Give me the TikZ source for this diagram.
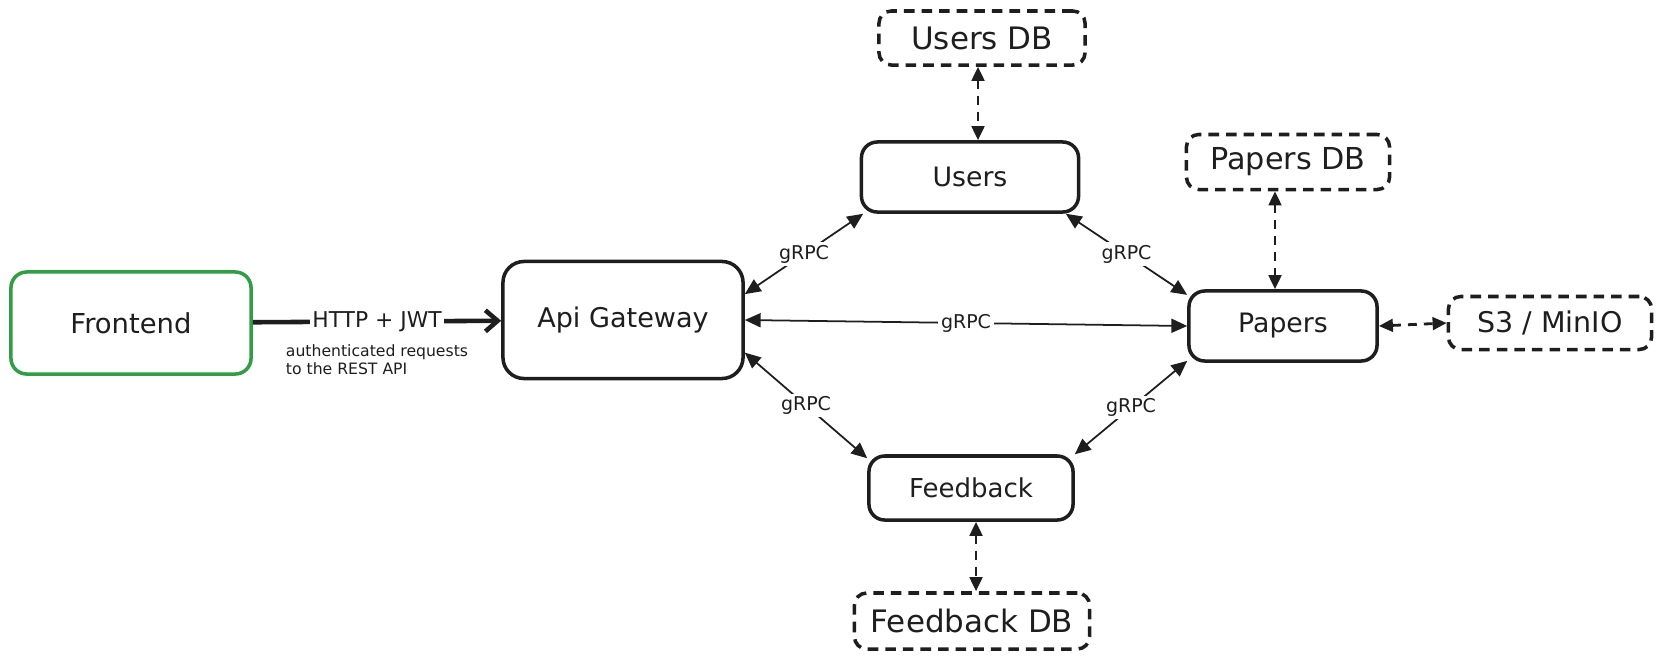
\documentclass[tikz,border=0pt]{standalone}
\usepackage{fontspec}
\setmainfont{DejaVu Sans}
\usetikzlibrary{arrows.meta,positioning}
\definecolor{ink}{HTML}{1E1E1E}
\definecolor{frontgreen}{HTML}{2F9E44}
\newcommand{\fsz}[1]{\fontsize{#1}{#1}\selectfont}
\begin{document}
\begin{tikzpicture}[x=0.01cm,y=-0.01cm]
\tikzstyle{svc}=[draw=ink, line width=1pt, rounded corners=4.5pt, text=ink, inner sep=0pt, fill=white]
\tikzstyle{db}=[svc, rounded corners=3.5pt, dash pattern=on 3pt off 2pt]
\tikzstyle{grpc}=[draw=ink, line width=0.5pt, {Triangle[length=4.5pt,width=4pt]}-{Triangle[length=4.5pt,width=4pt]}]
\tikzstyle{store}=[draw=ink, line width=0.8pt, dash pattern=on 2.5pt off 2pt, {Triangle[length=4pt,width=3.6pt]}-{Triangle[length=4pt,width=3.6pt]}]
\tikzstyle{lbl}=[fill=white, inner sep=0.8pt, text=ink, font=\fsz{5.4}]

\useasboundingbox (0,0) rectangle (1663,663);

% services
\node[svc, draw=frontgreen, minimum width=2.40cm, minimum height=1.02cm, font=\fsz{7.8}] (frontend) at (131,323) {Frontend\hspace{0.15cm}};
\node[svc, rounded corners=6pt, minimum width=2.40cm, minimum height=1.17cm, font=\fsz{7.7}] (api) at (623,320) {Api Gateway};
\node[svc, minimum width=2.17cm, minimum height=0.70cm, font=\fsz{7.6}] (users) at (970,177) {Users};
\node[svc, minimum width=1.88cm, minimum height=0.70cm, font=\fsz{7.6}] (papers) at (1283,326) {Papers};
\node[svc, minimum width=2.04cm, minimum height=0.64cm, font=\fsz{7.4}] (feedback) at (971,488) {Feedback};

% storage
\node[db, minimum width=2.06cm, minimum height=0.54cm, font=\fsz{8.8}] (usersdb) at (982,38) {Users DB};
\node[db, minimum width=2.03cm, minimum height=0.55cm, font=\fsz{8.6}] (papersdb) at (1288,162) {Papers DB};
\node[db, minimum width=2.03cm, minimum height=0.53cm, font=\fsz{8.1}] (s3) at (1550,323) {S3 / MinIO};
\node[db, minimum width=2.35cm, minimum height=0.56cm, font=\fsz{8.8}] (feedbackdb) at (972,621) {Feedback DB};

% frontend -> gateway
\draw[draw=ink, line width=1.3pt, -{Straight Barb[length=3.5pt,width=6pt]}] (frontend) -- node[lbl, font=\fsz{6.2}] (httplbl) {HTTP + JWT} (api);
\node[below=2pt of httplbl, align=left, text=ink, inner sep=0pt, font=\fontsize{4.45}{5.2}\selectfont] (httpnote) {authenticated requests\\to the REST API};

% gRPC links
\foreach \a/\b in {api.12/users.199, users.-21/papers.162, api.-15/feedback.164, papers.200/feedback.18, api.east/papers.west} {
\draw[grpc] (\a) -- node[lbl] {gRPC} (\b);
}

% storage links
\draw[store] ([xshift=0.08cm]users.north |- usersdb.south) -- ([xshift=0.08cm]users.north);
\draw[store] ([xshift=-0.08cm]papers.north |- papersdb.south) -- ([xshift=-0.08cm]papers.north);
\draw[store] (papers.east) -- (s3.west);
\draw[store] ([xshift=0.05cm]feedback.south) -- ([xshift=0.05cm]feedback.south |- feedbackdb.north);

\end{tikzpicture}
\end{document}
